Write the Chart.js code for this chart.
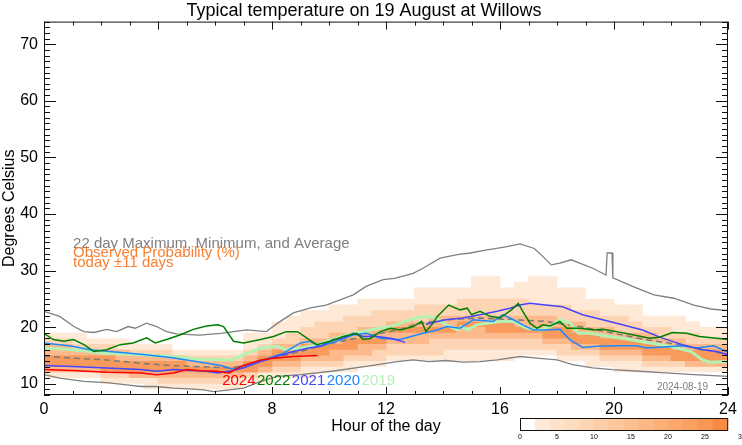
<!DOCTYPE html>
<html lang="en">
<head>
<meta charset="UTF-8">
<title>Typical temperature on 19 August at Willows</title>
<script src="https://cdn.jsdelivr.net/npm/chart.js"></script>
<style>
  html, body { margin: 0; padding: 0; background: #fff; }
  canvas { display: block; }
</style>
</head>
<body>
<canvas id="chart" width="742" height="445"></canvas>
<script>
// axis ticks
const hourTicks = [0, 4, 8, 12, 16, 20, 24];
const tempTicks = [10, 20, 30, 40, 50, 60, 70];

// observed probability: half hour columns (start hour), four shade levels lo/hi in deg C
const binStart = [0, 0.5, 1, 1.5, 2, 2.5, 3, 3.5, 4, 4.5, 5, 5.5,
  6, 6.5, 7, 7.5, 8, 8.5, 9, 9.5, 10, 10.5, 11, 11.5,
  12, 12.5, 13, 13.5, 14, 14.5, 15, 15.5, 16, 16.5, 17, 17.5,
  18, 18.5, 19, 19.5, 20, 20.5, 21, 21.5, 22, 22.5, 23, 23.5];

const band1Lo = [11, 11, 11, 11, 10, 10, 10, 9, 9, 9, 9, 9,
  9, 9, 10, 10, 11, 11, 11, 12, 12, 12, 13, 13,
  14, 14, 14, 14, 14, 14, 14, 14, 14, 15, 15, 15,
  14, 14, 13, 13, 12, 12, 12, 12, 12, 12, 12, 12];
const band1Hi = [19, 19, 19, 18, 18, 18, 17, 17, 17, 16, 16, 16,
  16, 16, 19, 19, 21, 22, 23, 23, 24, 24, 25, 25,
  25, 25, 27, 27, 27, 27, 29, 29, 27, 28, 29, 29,
  27, 27, 25, 25, 24, 24, 22, 22, 22, 21, 20, 20];
const band2Lo = [12, 12, 12, 12, 11, 11, 11, 11, 10, 10, 10, 10,
  10, 11, 11, 12, 12, 12, 13, 13, 13, 14, 14, 14,
  15, 15, 15, 15, 16, 16, 16, 16, 16, 16, 16, 16,
  15, 15, 15, 14, 14, 14, 13, 13, 13, 13, 13, 13];
const band2Hi = [18, 18, 17, 17, 17, 16, 16, 16, 16, 15, 15, 15,
  15, 15, 16, 17, 18, 19, 20, 21, 21, 22, 22, 23,
  23, 23, 24, 24, 24, 25, 25, 25, 25, 25, 24, 24,
  24, 23, 23, 22, 22, 21, 20, 20, 19, 19, 18, 18];
const band3Lo = [12, 12, 12, 12, 12, 12, 11, 11, 11, 11, 11, 11,
  11, 11, 12, 12, 13, 13, 14, 14, 14, 15, 15, 16,
  17, 17, 17, 18, 18, 18, 18, 18, 18, 18, 18, 17,
  17, 16, 16, 15, 15, 15, 14, 14, 14, 13, 13, 13];
const band3Hi = [17, 17, 16, 16, 16, 16, 15, 15, 15, 15, 14, 14,
  14, 14, 15, 16, 17, 17, 18, 18, 19, 19, 20, 20,
  21, 21, 21, 22, 22, 22, 22, 22, 22, 22, 22, 22,
  21, 21, 20, 20, 19, 19, 19, 18, 18, 17, 17, 17];
const band4Lo = [13, 13, 13, 13, 12, 12, 12, 12, 12, 12, 12, 12,
  12, 12, 12, 13, 14, 14, 15, 15, 16, 16, 17, 17,
  19, 19, 19, 19, 19, 20, 20, 19, 19, 19, 19, 18,
  18, 17, 17, 16, 16, 16, 15, 15, 14, 14, 14, 14];
const band4Hi = [15, 15, 15, 15, 15, 14, 14, 14, 14, 14, 13, 13,
  13, 13, 14, 15, 16, 16, 17, 17, 17, 18, 18, 18,
  20, 20, 20, 20, 20, 21, 21, 21, 21, 20, 20, 20,
  20, 19, 19, 18, 18, 18, 17, 17, 16, 16, 16, 16];
const bandColors = ['#fee9d7', '#fdd5b4', '#fbb98c', '#f89a5c'];

// 22 day max / min / average
const maxHour = [0, 0.55, 1.05, 1.4, 1.75, 2.2, 2.55, 2.95, 3.2, 3.6, 3.95, 4.3, 4.65, 5.45, 6.2, 7.1, 7.8, 8.2, 8.75, 9.35, 9.9, 10.85, 11.3, 11.9, 12.3, 12.95, 13.3, 13.9, 14.5, 14.95, 15.5, 16.2, 16.7, 17.2, 17.5, 17.8, 18.1, 18.5, 19.25, 19.72, 19.76, 19.93, 19.96, 20.65, 21.4, 22.1, 22.8, 23.4, 24];
const maxTemp = [22.8, 21.9, 20.1, 19.2, 19.05, 19.6, 19.2, 20.1, 19.8, 20.7, 20.1, 19.2, 18.8, 18.6, 18.9, 19.5, 19.2, 20.7, 22.5, 23.4, 23.9, 25.7, 27.2, 28.4, 28.6, 29.5, 30.4, 32.2, 32.8, 33.1, 33.6, 34.2, 34.7, 33.9, 32.5, 31.0, 31.3, 31.9, 30.4, 29.2, 33.1, 33.1, 28.7, 27.2, 25.7, 25.1, 23.9, 23.2, 22.9];
const minHour = [0, 0.55, 1.4, 2.2, 2.9, 3.4, 3.95, 4.55, 5.25, 5.6, 5.95, 6.5, 7.0, 7.45, 7.8, 8.2, 9.0, 10.1, 11.3, 12.4, 12.95, 13.5, 14.1, 14.7, 15.3, 15.9, 16.7, 17.3, 18.0, 18.55, 19.25, 19.95, 20.9, 21.8, 22.8, 24];
const minTemp = [11.6, 11.0, 10.4, 10.2, 9.8, 9.5, 9.5, 9.2, 9.05, 8.9, 8.6, 8.9, 9.2, 10.1, 10.7, 11.3, 11.6, 12.2, 13.05, 13.9, 14.2, 13.9, 14.1, 13.8, 13.9, 14.2, 14.8, 14.5, 14.2, 13.35, 12.8, 12.5, 12.2, 11.9, 11.6, 11.3];
const avgHour = [0, 1, 2.2, 3.4, 4.5, 5.5, 6.6, 7.8, 9, 10.15, 11.3, 12.5, 13, 14.1, 15.3, 16.5, 17.6, 18.8, 20, 21.1, 22.3, 23.5, 24];
const avgTemp = [14.9, 14.5, 14.2, 13.6, 13.2, 13.0, 12.8, 14.2, 15.7, 17.2, 18.4, 19.6, 20.5, 21.3, 21.6, 21.3, 21.0, 20.1, 18.9, 17.8, 16.9, 15.7, 15.1];

// individual years on 19 August
const hour2024 = [0, 1, 2.2, 3.4, 3.95, 4.55, 5, 5.5, 6.05, 6.5, 6.9, 7.6, 8.05, 8.75, 9.6];
const temp2024 = [12.5, 12.35, 12.0, 11.9, 11.6, 11.9, 12.5, 12.3, 12.2, 11.9, 13.05, 14.2, 14.5, 14.8, 15.0];
const hour2022 = [0, 0.33, 0.7, 1.03, 1.4, 1.75, 2.2, 2.67, 3.13, 3.6, 3.9, 4.3, 4.77, 5.24, 5.7, 6.1, 6.3, 6.65, 7.0, 7.6, 8.05, 8.5, 8.9, 9.3, 9.57, 10.05, 10.5, 10.97, 11.2, 11.45, 11.8, 12.15, 12.5, 12.96, 13.25, 13.4, 13.65, 13.8, 14.2, 14.6, 14.85, 15.0, 15.3, 15.65, 16.0, 16.4, 16.64, 16.8, 17.05, 17.3, 17.5, 17.75, 18.1, 18.35, 18.8, 19.3, 19.6, 20.1, 20.7, 21.25, 21.6, 22.05, 22.55, 23.0, 23.6, 24];
const temp2022 = [18.9, 17.8, 17.5, 17.8, 16.9, 15.7, 16.0, 16.9, 17.2, 18.1, 17.2, 17.8, 18.6, 19.6, 20.2, 20.4, 20.1, 17.5, 17.2, 17.8, 18.35, 19.2, 19.2, 17.8, 16.9, 17.5, 18.35, 18.9, 17.8, 18.0, 19.2, 19.8, 19.5, 20.1, 21.0, 19.2, 20.7, 21.9, 23.9, 23.05, 23.35, 22.2, 22.8, 21.9, 21.6, 23.05, 24.2, 22.8, 20.7, 19.8, 20.4, 20.2, 21.0, 19.8, 19.8, 19.5, 19.6, 19.2, 18.6, 18.05, 18.2, 19.05, 18.9, 18.35, 18.05, 17.8];
const hour2021 = [0, 1, 2, 3.4, 3.95, 4.55, 5.7, 6.1, 6.6, 7.0, 7.6, 8.15, 8.75, 9.3, 9.7, 10.15, 10.5, 10.85, 11.2, 11.7, 12.2, 12.67, 13.0, 13.4, 13.8, 14.1, 14.7, 15.3, 15.9, 16.35, 16.7, 17.05, 17.6, 18.2, 18.9, 19.6, 20.3, 21.0, 21.7, 22.4, 23.0, 23.6, 24];
const temp2021 = [13.2, 13.05, 12.8, 12.5, 12.2, 12.5, 12.2, 11.9, 12.3, 12.8, 13.9, 14.8, 15.7, 16.3, 16.6, 17.8, 18.05, 18.9, 18.35, 18.35, 18.0, 17.3, null, 20.5, 21.0, 21.3, 21.6, 22.2, 22.8, 23.35, 23.9, 24.2, 23.9, 23.6, 22.2, 21.3, 20.4, 19.5, 18.05, 16.9, 16.1, 15.7, 15.1];
const hour2020 = [0, 1, 1.6, 2.5, 3.4, 4.5, 5.5, 6.2, 6.6, 7.0, 7.35, 8.4, 9.0, 9.33, 9.68, 10.2, 10.85, 11.3, 11.8, 12.5, 13.3, 13.8, 14.13, 14.6, 15.06, 15.76, 16.1, 16.47, 16.8, 17.17, 17.64, 18.1, 18.45, 18.9, 19.4, 20.1, 20.8, 21.15, 21.75, 22.4, 22.9, 23.5, 23.8, 24];
const temp2020 = [17.2, 16.6, 16.0, 15.6, 15.2, 14.6, 13.8, 13.2, 12.6, 12.8, 13.6, 15.4, 17.2, 17.5, 16.6, 17.4, 18.6, 18.9, 18.05, 17.8, 18.9, 19.5, 20.1, 19.8, 21.3, 21.0, 22.2, 21.3, 20.4, 19.5, 19.5, 19.6, 17.8, 16.4, 16.6, 16.7, 16.7, 16.3, 16.5, 16.7, 16.3, 16.7, 16.0, 15.6];
const hour2019 = [0, 1, 1.6, 2.2, 3.4, 4.5, 5.5, 6.6, 7.0, 7.6, 8.15, 8.5, 9.0, 9.6, 10.25, 10.85, 11.45, 12.15, 12.5, 13.05, 13.4, 13.75, 14.13, 14.5, 14.66, 14.85, 15.18, 15.53, 16.0, 16.47, 16.94, 17.4, 17.75, 18.1, 18.46, 18.75, 19.16, 19.86, 20.56, 21.26, 21.96, 22.7, 23.1, 23.37, 24];
const temp2019 = [16.3, 16.0, 15.7, 15.4, 15.1, 14.8, 14.3, 14.2, 15.1, 16.3, 16.6, 16.0, 16.3, 16.9, 18.05, 18.9, 19.5, 20.1, 20.7, 21.6, 21.9, 21.6, 20.4, 19.5, 20.1, 19.5, 20.4, 20.7, 21.0, 21.0, 19.8, 19.5, 20.1, 21.3, 20.7, 18.9, 18.9, 18.35, 17.8, 17.2, 16.6, 15.7, 14.2, 13.8, 13.9];

const yearNames = ['2024', '2022', '2021', '2020', '2019'];
const yearColors = ['#ff0000', '#007f00', '#4545ff', '#1e88ff', '#b4f2b4'];

// colour bar (probability %)
const cbarEdges = [0, 2, 4, 6, 8, 10, 12, 14, 16, 18, 20, 22, 24, 26, 28];
const cbarColors = ['#ffffff', '#feead8', '#fee3cc', '#fddcc0', '#fdd5b4', '#fdcea8', '#fcc79c', '#fcc090', '#fbb884', '#fbb078', '#faa86c', '#faa060', '#f99854', '#f88b44'];
const cbarLabels = [0, 5, 10, 15, 20, 25, 30];

const FONT = "'Liberation Sans', Arial, Helvetica, sans-serif";
Chart.defaults.font.family = FONT;
Chart.defaults.color = '#000';

function pts(hours, temps) {
  return hours.map((h, i) => ({ x: h, y: temps[i] }));
}
function band(lo, hi) {
  return binStart.map((h, i) => ({ x: h + 0.25, y: [lo[i], hi[i]] }));
}
function barSet(lo, hi, color, order) {
  return {
    type: 'bar', data: band(lo, hi), backgroundColor: color, borderWidth: 0,
    grouped: false, barPercentage: 1.04, categoryPercentage: 1, order: order
  };
}
function lineSet(hours, temps, color, width, order, dash) {
  return {
    type: 'line', data: pts(hours, temps), borderColor: color, borderWidth: width,
    pointRadius: 0, tension: 0, fill: false, spanGaps: false, order: order,
    borderDash: dash || []
  };
}

const framePlugin = {
  id: 'frame',
  afterDraw(chart) {
    const ctx = chart.ctx;
    const a = chart.chartArea;
    const xs = chart.scales.x, ys = chart.scales.y;
    ctx.save();
    ctx.strokeStyle = '#111';
    ctx.lineWidth = 1;
    ctx.strokeRect(a.left + 0.5, a.top + 0.5, a.right - a.left - 1, a.bottom - a.top - 1);
    ctx.beginPath();
    for (let h = 0; h <= 24; h++) {
      const x = Math.round(xs.getPixelForValue(h)) + 0.5;
      const len = h % 4 === 0 ? 8 : 4;
      ctx.moveTo(x, a.bottom); ctx.lineTo(x, a.bottom - len);
      ctx.moveTo(x, a.top); ctx.lineTo(x, a.top + len);
    }
    for (let t = 8; t <= 74; t++) {
      const y = Math.round(ys.getPixelForValue(t)) + 0.5;
      const len = t % 10 === 0 ? 12 : 6;
      ctx.moveTo(a.left, y); ctx.lineTo(a.left + len, y);
      ctx.moveTo(a.right, y); ctx.lineTo(a.right - len, y);
    }
    ctx.stroke();

    // annotations
    ctx.textBaseline = 'alphabetic';
    ctx.textAlign = 'left';
    const tx = xs.getPixelForValue(1.02);
    ctx.font = '15px ' + FONT;
    ctx.fillStyle = '#808080';
    ctx.fillText('22 day Maximum, Minimum, and Average', tx, ys.getPixelForValue(33.9));
    ctx.fillStyle = '#f98032';
    ctx.fillText('Observed Probability (%)', tx, ys.getPixelForValue(32.4));
    ctx.fillText('today \u00b111 days', tx, ys.getPixelForValue(30.6));

    ctx.font = '15px ' + FONT;
    let lx = xs.getPixelForValue(6.25);
    const ly = ys.getPixelForValue(9.7);
    yearNames.forEach((n, i) => {
      ctx.fillStyle = yearColors[i];
      ctx.fillText(n, lx, ly);
      lx += ctx.measureText(n).width + 1.5;
    });

    ctx.font = '10px ' + FONT;
    ctx.fillStyle = '#808080';
    ctx.textAlign = 'right';
    ctx.fillText('2024-08-19', xs.getPixelForValue(23.3), ys.getPixelForValue(8.8));

    // colour bar
    const cx0 = 520, cw = 7.4, cy = 418, ch = 12;
    cbarColors.forEach((c, i) => {
      ctx.fillStyle = c;
      ctx.fillRect(cx0 + cbarEdges[i] * cw, cy, (cbarEdges[i + 1] - cbarEdges[i]) * cw + 0.5, ch);
    });
    ctx.strokeStyle = '#111';
    ctx.strokeRect(cx0 + 0.5, cy + 0.5, cbarEdges[cbarEdges.length - 1] * cw, ch);
    ctx.font = '7px ' + FONT;
    ctx.fillStyle = '#000';
    ctx.textAlign = 'center';
    ctx.textBaseline = 'top';
    cbarLabels.forEach(v => ctx.fillText(String(v), cx0 + v * cw, cy + ch + 4));
    ctx.restore();
  }
};

new Chart(document.getElementById('chart'), {
  type: 'line',
  data: {
    datasets: [
      lineSet(hour2024, temp2024, yearColors[0], 1.5, 0),
      lineSet(hour2022, temp2022, yearColors[1], 1.5, 1),
      lineSet(hour2021, temp2021, yearColors[2], 1.5, 2),
      lineSet(hour2020, temp2020, yearColors[3], 1.5, 3),
      lineSet(hour2019, temp2019, yearColors[4], 3, 4),
      lineSet(avgHour, avgTemp, '#7a7a7a', 1.5, 5, [6, 4]),
      lineSet(maxHour, maxTemp, '#808080', 1.3, 5),
      lineSet(minHour, minTemp, '#808080', 1.3, 5),
      barSet(band4Lo, band4Hi, bandColors[3], 6),
      barSet(band3Lo, band3Hi, bandColors[2], 7),
      barSet(band2Lo, band2Hi, bandColors[1], 8),
      barSet(band1Lo, band1Hi, bandColors[0], 9)
    ]
  },
  options: {
    responsive: false,
    animation: false,
    devicePixelRatio: 1,
    layout: { padding: { left: 0, right: 14, top: 0, bottom: 0 } },
    plugins: {
      legend: { display: false },
      tooltip: { enabled: false },
      title: {
        display: true,
        text: 'Typical temperature on 19 August at Willows',
        color: '#000',
        font: { size: 18, weight: 'normal' },
        padding: { top: 0, bottom: 0 }
      }
    },
    scales: {
      x: {
        type: 'linear', min: 0, max: 24, offset: false,
        grid: { display: false, drawTicks: false, offset: false },
        border: { display: false },
        afterBuildTicks: s => { s.ticks = hourTicks.map(v => ({ value: v })); },
        afterFit: s => { s.height = 50; },
        ticks: { padding: 5, font: { size: 16 }, maxRotation: 0, autoSkip: false },
        title: { display: true, text: 'Hour of the day', font: { size: 16 }, padding: { top: 0, bottom: 9 } }
      },
      y: {
        type: 'linear', min: 8, max: 74,
        grid: { display: false, drawTicks: false },
        border: { display: false },
        afterBuildTicks: s => { s.ticks = tempTicks.map(v => ({ value: v })); },
        afterFit: s => { s.width = 44; },
        ticks: { padding: 6, font: { size: 16 } },
        title: { display: true, text: 'Degrees Celsius', font: { size: 16 }, padding: { top: 0, bottom: 0 } }
      }
    }
  },
  plugins: [framePlugin]
});
</script>
</body>
</html>
